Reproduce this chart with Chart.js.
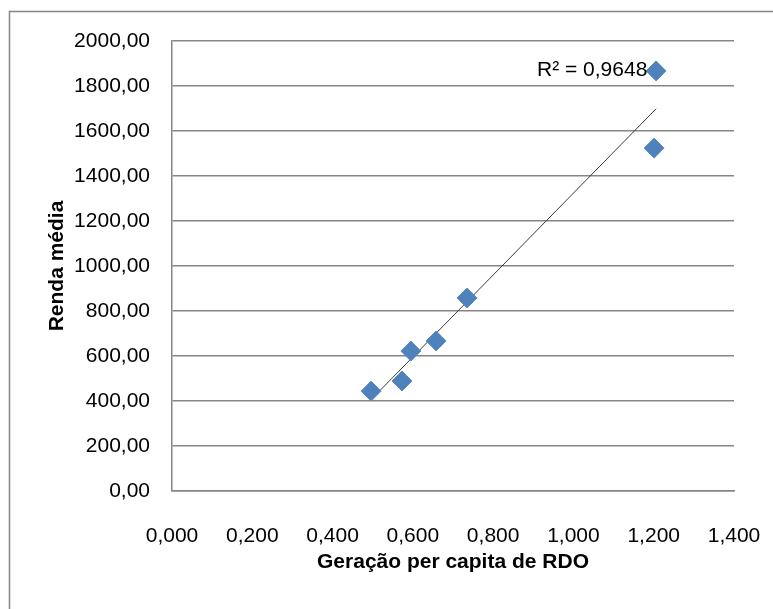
<!DOCTYPE html>
<html>
<head>
<meta charset="utf-8">
<script src="https://cdn.jsdelivr.net/npm/chart.js@4"></script>
<style>
  body { margin: 0; background: #fff; }
  #wrap { width: 773px; height: 609px; }
</style>
</head>
<body>
<div id="wrap"><canvas id="chart" width="773" height="609"></canvas></div>
<script>
// values
const geracao = [0.496, 0.573, 0.595, 0.658, 0.735, 1.206, 1.201];
const renda = [444, 489, 622, 667, 858, 1867, 1524];
const xTickLabels = ['0,000', '0,200', '0,400', '0,600', '0,800', '1,000', '1,200', '1,400'];
const yTickLabels = ['0,00', '200,00', '400,00', '600,00', '800,00', '1000,00', '1200,00', '1400,00', '1600,00', '1800,00', '2000,00'];
const r2Label = 'R\u00B2 = 0,9648';

// linear trendline (least squares)
const n = geracao.length;
const mx = geracao.reduce((a, b) => a + b, 0) / n;
const my = renda.reduce((a, b) => a + b, 0) / n;
let sxy = 0, sxx = 0;
for (let i = 0; i < n; i++) {
  sxy += (geracao[i] - mx) * (renda[i] - my);
  sxx += (geracao[i] - mx) ** 2;
}
const slope = sxy / sxx;
const icpt = my - slope * mx;
const x0 = Math.min(...geracao), x1 = Math.max(...geracao);

const gray = '#868686';
const tickFont = { family: 'Liberation Sans', size: 21 };

// frame around the chart + R² label
const extras = {
  id: 'extras',
  beforeDraw(chart) {
    const ctx = chart.ctx;
    ctx.save();
    ctx.strokeStyle = gray;
    ctx.lineWidth = 1.5;
    ctx.strokeRect(9.5, 11.5, 1000, 1000);
    ctx.restore();
  },
  afterDatasetsDraw(chart) {
    const ctx = chart.ctx;
    const a = chart.chartArea;
    ctx.save();
    ctx.fillStyle = '#000';
    ctx.font = '21px "Liberation Sans"';
    ctx.textBaseline = 'middle';
    ctx.fillText(r2Label, a.left + 365, 70);
    ctx.restore();
  }
};

new Chart(document.getElementById('chart'), {
  type: 'scatter',
  data: {
    datasets: [{
      label: 'Renda',
      data: geracao.map((x, i) => ({ x: x, y: renda[i] })),
      pointStyle: 'rectRot',
      pointRadius: 10,
      pointBorderWidth: 1,
      backgroundColor: '#4F81BD',
      borderColor: '#5b8cc6'
    }, {
      type: 'line',
      label: 'Tendência',
      data: [{ x: x0, y: icpt + slope * x0 }, { x: x1, y: icpt + slope * x1 }],
      borderColor: '#3a3a3a',
      borderWidth: 1,
      pointRadius: 0,
      fill: false
    }]
  },
  options: {
    responsive: false,
    animation: false,
    layout: { padding: { top: 41, right: 39, left: 0, bottom: 0 } },
    plugins: { legend: { display: false }, tooltip: { enabled: false } },
    scales: {
      x: {
        type: 'linear',
        min: 0, max: 1.4,
        afterFit: s => { s.height = 118; s.paddingLeft = 0; s.paddingRight = 0; },
        afterBuildTicks: s => { s.ticks = xTickLabels.map((_, i) => ({ value: i * 0.2 })); },
        grid: { display: false, drawTicks: false },
        border: { color: gray, width: 1.5 },
        ticks: {
          font: tickFont, color: '#000', padding: 33, maxRotation: 0,
          callback: (v, i) => xTickLabels[i]
        },
        title: {
          display: true, text: 'Geração per capita de RDO', color: '#000',
          font: { family: 'Liberation Sans', size: 21, weight: 'bold' },
          padding: { top: 0, bottom: 34 }
        }
      },
      y: {
        min: 0, max: 2000,
        afterFit: s => { s.width = 172; s.paddingTop = 0; s.paddingBottom = 0; },
        afterBuildTicks: s => { s.ticks = yTickLabels.map((_, i) => ({ value: i * 200 })); },
        grid: { color: gray, lineWidth: 1.5, drawTicks: false },
        border: { color: gray, width: 1.5 },
        ticks: {
          font: tickFont, color: '#000', padding: 22,
          callback: (v, i) => yTickLabels[i]
        },
        title: {
          display: true, text: 'Renda média', color: '#000',
          font: { family: 'Liberation Sans', size: 21, weight: 'bold' },
          padding: { top: 45, bottom: 0 }
        }
      }
    }
  },
  plugins: [extras]
});
</script>
</body>
</html>
